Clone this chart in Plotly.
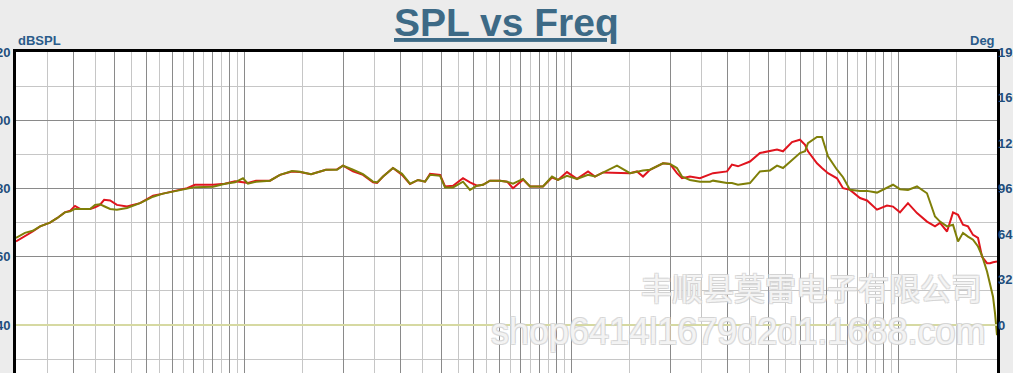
import plotly.graph_objects as go

# ---- data ----
freq_hz = [20, 21.3, 22.5, 23.7, 25.4, 26.7, 28.2, 29.3, 30.3, 31.4, 33.7, 34.9, 36.1, 37.2, 38.8,
           40.7, 43.7, 47.9, 52.5, 56.3, 61.3, 66.7, 70.5, 80.1, 87.1, 93.5, 98.9, 102.4, 108.4,
           119.6, 128.3, 139.6, 147.7, 159.7, 177.4, 191.7, 200, 214.6, 230.2, 247.1, 254.2,
           265.2, 284.4, 303.1, 320.6, 339.3, 356.4, 369.2, 396.2, 410.3, 434.0, 465.6, 489.1,
           513.8, 535.9, 562.9, 604.2, 634.7, 662.2, 710.4, 746.5, 817.7, 871.3, 908.9, 968.4,
           1039, 1123, 1179, 1248, 1377, 1509, 1585, 1654, 1737, 1904, 2000, 2100, 2176, 2302,
           2470, 2652, 2708, 2988, 3094, 3228, 3512, 3769, 4044, 4249, 4432, 4722, 4995, 5176,
           5284, 5630, 5831, 6084, 6482, 6763, 7104, 7622, 8009, 8590, 9217, 9616, 10100, 10684,
           11386, 12216, 12926, 13390, 14068, 14674, 15200, 15740, 16306, 16892, 17498, 18000,
           18646, 19046, 19446, 19720, 20000]

spl_red = [64.5, 66.0, 67.4, 68.9, 70.0, 71.3, 73.0, 73.5, 74.9, 74.0, 74.0, 74.5, 75.2, 76.7, 76.5,
           75.2, 74.7, 75.7, 77.9, 78.5, 79.2, 80.1, 81.1, 81.1, 81.4, 82.1, 81.8, 81.6, 82.3,
           82.3, 84.0, 85.0, 84.8, 84.2, 85.5, 85.6, 86.7, 85.0, 84.0, 81.8, 81.6,
           83.5, 86.0, 84.0, 81.3, 82.5, 82.0, 84.3, 84.0, 80.6, 80.8, 83.0, 81.8,
           80.8, 81.1, 82.3, 82.3, 82.0, 80.1, 82.6, 80.6, 80.6, 83.2, 82.5, 84.8,
           82.8, 85.0, 83.5, 84.7, 84.7, 84.5, 85.0, 83.5, 85.5, 87.4, 87.2, 84.5, 83.0, 83.5,
           83.0, 84.0, 84.5, 85.0, 87.0, 86.5, 87.9, 90.4, 90.9, 91.4, 90.9, 93.6, 94.3, 92.8,
           90.9, 87.4, 86.0, 84.5, 83.0, 80.1, 79.6, 77.2, 76.5, 73.8, 75.0, 74.7, 73.0, 75.7,
           72.8, 70.3, 68.9, 69.9, 67.4, 73.0, 72.3, 69.4, 68.9, 66.4, 65.5, 60.0,
           58.1, 58.1, 58.4, 58.5, 58.6]

spl_olive = [65.5, 67.0, 67.6, 68.9, 70.0, 71.3, 73.0, 73.3, 74.0, 74.0, 74.0, 75.2, 75.4, 74.8, 74.0,
             73.8, 74.3, 75.7, 77.6, 78.5, 79.2, 80.1, 80.4, 80.5, 81.4, 81.8, 83.0, 81.4, 82.0,
             82.3, 84.0, 85.1, 84.9, 84.2, 85.5, 85.5, 86.7, 85.5, 84.2, 82.0, 81.8,
             83.5, 86.0, 84.3, 81.4, 82.5, 82.0, 84.0, 83.7, 80.3, 80.3, 82.0, 79.6,
             80.8, 81.1, 82.3, 82.3, 82.0, 81.4, 82.8, 80.6, 80.6, 83.5, 82.5, 83.7,
             82.8, 84.0, 83.5, 84.7, 86.7, 84.5, 85.0, 85.3, 85.5, 87.4, 87.2, 86.0, 83.5, 82.5,
             82.0, 82.0, 82.3, 81.6, 81.6, 81.1, 81.6, 85.0, 85.3, 86.7, 86.0, 88.4, 90.4, 90.9,
             93.3, 95.1, 95.1, 89.4, 85.5, 83.3, 79.6, 79.3, 79.3, 78.8, 80.1, 81.1, 79.8, 79.6,
             80.6, 78.6, 71.8, 70.3, 68.9, 69.4, 64.5, 67.0, 65.9, 65.0, 63.0, 60.3,
             55.7, 52.3, 48.3, 43.5, 37.0]

phase_freq = [20, 20000]
phase_deg = [0, 0]

left_ticks = [40, 60, 80, 100, 120]
right_ticks = [-32, 0, 32, 64, 96, 128, 160, 192]
major_grid_hz = [30, 40, 50, 60, 70, 80, 90, 100, 200, 300, 400, 500, 600, 700, 800, 900,
                 1000, 2000, 3000, 4000, 5000, 6000, 7000, 8000, 9000, 10000]
minor_grid_hz = [25, 35, 45, 55, 65, 75, 85, 95, 150, 250, 350, 450, 550, 650, 750, 850, 950,
                 1500, 2500, 3500, 4500, 5500, 6500, 7500, 8500, 9500, 15000]

FONT = "Liberation Sans, Arial, sans-serif"
LABEL_BLUE = "#1f4e7d"
DARK_GRID = "#8a8a8a"
LIGHT_GRID = "#c6c6c6"

fig = go.Figure()
fig.add_trace(go.Scatter(x=phase_freq, y=phase_deg, yaxis="y2", mode="lines",
                         line=dict(color="#d6d9a2", width=2), hoverinfo="skip"))
fig.add_trace(go.Scatter(x=freq_hz, y=spl_red, mode="lines",
                         line=dict(color="#e0141e", width=2)))
fig.add_trace(go.Scatter(x=freq_hz, y=spl_olive, mode="lines",
                         line=dict(color="#7f7f08", width=2)))

fig.update_layout(
    width=1013, height=373,
    margin=dict(l=16, r=16, t=52, b=0, autoexpand=False),
    paper_bgcolor="#ececec", plot_bgcolor="#ffffff",
    showlegend=False,
    xaxis=dict(type="log", range=[1.30103, 4.30103], automargin=False,
               tickmode="array", tickvals=major_grid_hz, showticklabels=False, ticks="",
               showgrid=True, gridcolor=DARK_GRID, gridwidth=1,
               minor=dict(tickmode="array", tickvals=minor_grid_hz, showgrid=True,
                          gridcolor=LIGHT_GRID, gridwidth=1, ticks=""),
               showline=True, linecolor="#000000", linewidth=3, mirror=True, zeroline=False),
    yaxis=dict(range=[25.93, 120], tickmode="array", tickvals=left_ticks, automargin=False,
               ticks="", showgrid=True, gridcolor=DARK_GRID, gridwidth=1,
               minor=dict(dtick=10, tick0=0, showgrid=True, gridcolor=LIGHT_GRID, gridwidth=1),
               tickfont=dict(family=FONT, size=13, color=LABEL_BLUE, weight="bold"),
               showline=True, linecolor="#000000", linewidth=3, mirror=True, zeroline=False),
    yaxis2=dict(range=[-33.76, 192], overlaying="y", side="right", tickmode="array",
                automargin=False, tickvals=right_ticks, ticks="", showgrid=False, zeroline=False,
                tickfont=dict(family=FONT, size=13, color=LABEL_BLUE, weight="bold")),
)

fig.add_annotation(text="<b>SPL vs Freq</b>", xref="paper", yref="paper", x=0.5, y=1,
                   xanchor="center", yanchor="bottom", yshift=6, showarrow=False,
                   font=dict(family=FONT, size=39, color="#3d6a86", lineposition="under"))
fig.add_annotation(text="<b>dBSPL</b>", xref="paper", yref="paper", x=0, y=1,
                   xanchor="left", yanchor="bottom", yshift=2, showarrow=False,
                   font=dict(family=FONT, size=13, color="#2a5b8a"))
fig.add_annotation(text="<b>Deg</b>", xref="paper", yref="paper", x=1, y=1,
                   xanchor="right", yanchor="bottom", yshift=2, showarrow=False,
                   font=dict(family=FONT, size=13, color="#2a5b8a"))

wm_shadow = "-1px -1px 0 #d2d2d2, 1px -1px 0 #d2d2d2, -1px 1px 0 #d2d2d2, 1px 1px 0 #d2d2d2"
fig.add_annotation(text="丰顺县莫雷电子有限公司", xref="paper", yref="paper", x=0.811, y=0.268,
                   xanchor="center", yanchor="middle", showarrow=False,
                   font=dict(family="Noto Sans CJK SC", size=31, color="rgba(255,255,255,0.75)",
                             shadow=wm_shadow))
fig.add_annotation(text="shop6414l1679d2d1.1688.com", xref="paper", yref="paper", x=0.7355, y=0.128,
                   xanchor="center", yanchor="middle", showarrow=False,
                   font=dict(family=FONT, size=36, color="rgba(255,255,255,0.75)",
                             shadow=wm_shadow))

fig.write_html("out.html")
